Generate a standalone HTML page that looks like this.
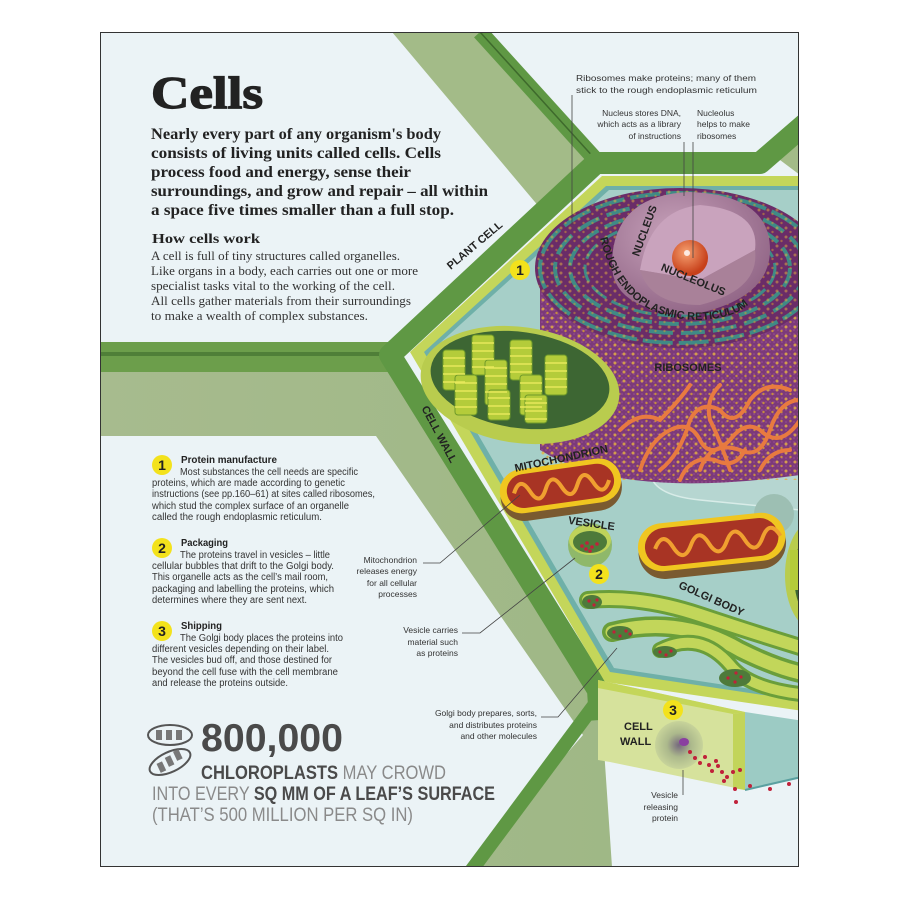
<!DOCTYPE html>
<html><head><meta charset="utf-8"><style>
html,body{margin:0;padding:0;background:#fff;}
svg{display:block}
.ser{font-family:"Liberation Serif",serif}
.san{font-family:"Liberation Sans",sans-serif}
</style></head><body>
<svg width="900" height="900" viewBox="0 0 900 900" xmlns="http://www.w3.org/2000/svg">
<defs>
<clipPath id="pg"><rect x="100" y="32" width="699" height="835"/></clipPath>
<pattern id="dots" width="9" height="9" patternUnits="userSpaceOnUse"><circle cx="3" cy="3" r="1.5" fill="#e8b440"/><circle cx="7.5" cy="7" r="1.2" fill="#d9a030"/></pattern>
<pattern id="pd" width="4" height="4" patternUnits="userSpaceOnUse"><rect width="4" height="4" fill="#7c3a7a"/><circle cx="2" cy="2" r="0.8" fill="#9a4f95"/></pattern>
<linearGradient id="sage" x1="0" y1="0" x2="1" y2="0"><stop offset="0" stop-color="#a7bb8e"/><stop offset="1" stop-color="#9fb886"/></linearGradient>
<radialGradient id="nuc" cx="0.4" cy="0.35" r="0.7"><stop offset="0" stop-color="#c8a3bb"/><stop offset="1" stop-color="#8f6384"/></radialGradient>
<radialGradient id="nl" cx="0.4" cy="0.35" r="0.6"><stop offset="0" stop-color="#f6a070"/><stop offset="1" stop-color="#c7401a"/></radialGradient>
<radialGradient id="vr" cx="0.5" cy="0.5" r="0.5"><stop offset="0" stop-color="#6a5a7a"/><stop offset="0.5" stop-color="#a7b48a"/><stop offset="1" stop-color="#c6d29a"/></radialGradient>
</defs>
<rect x="100" y="32" width="699" height="835" fill="#ebf3f6"/>
<g clip-path="url(#pg)">
<polygon points="392,32 480,32 590,155 540,208" fill="#a3bb88"/>
<polygon points="780,160 800,140 800,175" fill="#a3bb88"/>
<polygon points="100,370 392,370 600,690 612,867 468,867 583,735 376,436 100,436" fill="url(#sage)"/>
<rect x="100" y="342" width="300" height="30" fill="#6c9e4b"/>
<rect x="100" y="352" width="300" height="4" fill="#4f7f38"/>
<path d="M480,32 L596,160" stroke="#5f9844" stroke-width="16" fill="none"/>
<path d="M480,32 L596,160" stroke="#3e6a2c" stroke-width="1.5" fill="none"/>
<path d="M812,118 L760,163 L596,163 L390,355 L598,690 L600,720" stroke="#5f9844" stroke-width="22" fill="none" stroke-linejoin="round"/>
<path d="M598,700 L468,875" stroke="#5f9844" stroke-width="14" fill="none"/>
<polygon points="810,176 602,176 410,352 605,682 810,712" fill="#c4d65a"/>
<polygon points="810,186 606,186 424,352 610,672 810,702" fill="#6fb0a8"/>
<polygon points="810,190 609,190 430,352 614,668 810,698" fill="#a6cfc8"/>
<polygon points="598,680 745,712 745,790 610,762 598,760" fill="#d6e29c"/>
<polygon points="598,680 745,712 733,714 598,688" fill="#c4d65a"/>
<polygon points="733,714 745,712 745,790 733,788" fill="#c2d45a"/>
<polygon points="745,712 810,722 810,775 745,790" fill="#9ccbc4"/>
<path d="M745,790 L810,775" stroke="#5aa0a0" stroke-width="2"/>
<circle cx="679" cy="745" r="24" fill="url(#vr)" opacity="0.9"/>
<ellipse cx="684" cy="742" rx="5" ry="4" fill="#8a3fa0"/>
<g fill="#c0213a">
<circle cx="690" cy="752" r="2"/><circle cx="695" cy="758" r="2"/><circle cx="700" cy="763" r="2"/><circle cx="705" cy="757" r="2"/><circle cx="709" cy="765" r="2"/><circle cx="712" cy="771" r="2"/><circle cx="718" cy="766" r="2"/><circle cx="722" cy="772" r="2"/><circle cx="727" cy="777" r="2"/><circle cx="733" cy="772" r="2"/><circle cx="740" cy="770" r="2"/><circle cx="735" cy="789" r="2"/><circle cx="750" cy="786" r="2"/><circle cx="770" cy="789" r="2"/><circle cx="789" cy="784" r="2"/><circle cx="736" cy="802" r="2"/><circle cx="716" cy="761" r="2"/><circle cx="724" cy="781" r="2"/>
</g>
<path d="M650,470 Q640,440 700,440 L800,435 L800,510 L700,500 Q650,495 650,470Z" fill="#b6d6d1" stroke="#d8ece8" stroke-width="1.5"/>
<circle cx="774" cy="514" r="20" fill="#9dbfb3"/>
<path d="M540,280 L540,450 Q620,500 800,475 L800,240 Z" fill="url(#pd)"/>
<rect x="540" y="280" width="260" height="200" fill="url(#dots)" opacity="0.8"/>
<ellipse cx="680" cy="268" rx="145" ry="80" fill="#6a2c68"/>
<ellipse cx="680" cy="268" rx="140" ry="75" fill="none" stroke="#3f8a86" stroke-width="4" stroke-dasharray="30 6"/>
<ellipse cx="680" cy="268" rx="125" ry="65" fill="none" stroke="#3f8a86" stroke-width="4" stroke-dasharray="24 8"/>
<ellipse cx="680" cy="268" rx="110" ry="56" fill="none" stroke="#3f8a86" stroke-width="4" stroke-dasharray="20 7"/>
<ellipse cx="680" cy="268" rx="95" ry="48" fill="none" stroke="#3f8a86" stroke-width="3" stroke-dasharray="18 6"/>
<ellipse cx="680" cy="268" rx="145" ry="80" fill="url(#dots)" opacity="0.5"/>
<path d="M612,265 Q612,195 690,192 Q770,195 770,250 Q770,300 690,315 Q612,310 612,265Z" fill="url(#nuc)"/>
<path d="M640,270 Q650,210 700,205 Q760,210 755,250 L700,280 Z" fill="#c9a3bd"/>
<path d="M640,270 L700,280 L755,250 Q760,290 700,305 Q650,305 640,270Z" fill="#a98199"/>
<circle cx="690" cy="258" r="18" fill="url(#nl)"/>
<circle cx="687" cy="253" r="3" fill="#fff" opacity="0.8"/>
<g fill="none" stroke="#e87a40" stroke-width="4" stroke-linecap="round">
<path d="M640,470 Q650,440 670,430 Q690,420 700,440 Q710,460 730,440 Q745,420 760,430 Q780,450 800,420"/>
<path d="M660,470 Q680,455 690,420 Q700,400 720,410 Q735,430 750,400 Q765,380 790,390"/>
<path d="M700,470 Q710,440 740,450 Q760,460 770,430 Q780,400 800,400"/>
<path d="M620,430 Q640,410 660,420 Q680,400 690,385"/>
<path d="M760,470 Q770,450 790,450"/>
<path d="M730,470 Q720,440 710,420 Q705,400 720,385"/>
<path d="M680,480 Q690,455 715,460 Q735,470 745,450"/>
</g>
<ellipse cx="520" cy="385" rx="100" ry="58" transform="rotate(8 520 385)" fill="#b9cc4e"/>
<ellipse cx="520" cy="380" rx="90" ry="48" transform="rotate(8 520 380)" fill="#3d6633"/>
<g fill="#b4cc3a" stroke="#6f9a2a" stroke-width="1">
<rect x="443" y="350" width="22" height="40" rx="3"/><rect x="472" y="335" width="22" height="40" rx="3"/><rect x="510" y="340" width="22" height="40" rx="3"/>
<rect x="455" y="375" width="22" height="40" rx="3"/><rect x="485" y="360" width="22" height="45" rx="3"/><rect x="520" y="375" width="22" height="40" rx="3"/>
<rect x="545" y="355" width="22" height="40" rx="3"/><rect x="488" y="390" width="22" height="30" rx="3"/><rect x="525" y="395" width="22" height="28" rx="3"/>
</g>
<g stroke="#e6e85a" stroke-width="1.5">
<path d="M443,358h22M443,366h22M443,374h22M443,382h22M472,343h22M472,351h22M472,359h22M472,367h22M510,348h22M510,356h22M510,364h22M510,372h22M455,383h22M455,391h22M455,399h22M455,407h22M485,368h22M485,376h22M485,384h22M485,392h22M520,383h22M520,391h22M520,399h22M520,407h22M545,363h22M545,371h22M545,379h22M545,387h22M488,398h22M488,406h22M488,414h22M525,403h22M525,411h22M525,419h22"/>
</g>
<ellipse cx="815" cy="575" rx="30" ry="55" fill="#b9cc4e"/><ellipse cx="818" cy="575" rx="24" ry="48" fill="#3d6633"/>
<rect x="790" y="550" width="12" height="40" fill="#b4cc3a"/>
<g transform="rotate(-8 560 490)">
<rect x="500" y="468" width="122" height="48" rx="24" fill="#7a5a30"/>
<rect x="500" y="464" width="122" height="44" rx="22" fill="#f0c620"/>
<rect x="507" y="469" width="108" height="34" rx="17" fill="#a83424"/>
<path d="M514,487 q8,-17 16,0 t16,0 t16,0 t16,0 t16,0 t16,0" fill="none" stroke="#f0a030" stroke-width="4"/>
</g>
<g transform="rotate(-6 712 545)">
<rect x="638" y="522" width="148" height="52" rx="26" fill="#7a5a30"/>
<rect x="638" y="518" width="148" height="48" rx="24" fill="#f0c620"/>
<rect x="645" y="523" width="134" height="38" rx="19" fill="#a83424"/>
<path d="M655,543 q9,-18 18,0 t18,0 t18,0 t18,0 t18,0 t18,0 t18,0" fill="none" stroke="#f0a030" stroke-width="4"/>
</g>
<circle cx="590" cy="545" r="22" fill="#8fb86a"/>
<ellipse cx="590" cy="540" rx="21" ry="15" fill="#bfd35a"/>
<ellipse cx="590" cy="542" rx="17" ry="11" fill="#4e7a3a"/>
<g fill="#c0213a"><circle cx="582" cy="546" r="1.8"/><circle cx="587" cy="543" r="1.8"/><circle cx="592" cy="547" r="1.8"/><circle cx="597" cy="544" r="1.8"/><circle cx="590" cy="551" r="1.8"/><circle cx="586" cy="549" r="1.8"/></g>
<g fill="none" stroke-linecap="round">
<path d="M588,600 Q640,595 700,615 Q760,635 810,650" stroke="#6a9e3a" stroke-width="18"/>
<path d="M588,600 Q640,595 700,615 Q760,635 810,650" stroke="#c2d65a" stroke-width="12"/>
<path d="M612,632 Q680,615 740,650 Q780,670 810,675" stroke="#6a9e3a" stroke-width="20"/>
<path d="M612,632 Q680,615 740,650 Q780,670 810,675" stroke="#c2d65a" stroke-width="13"/>
<path d="M660,650 Q700,630 730,665 Q750,690 810,695" stroke="#6a9e3a" stroke-width="16"/>
<path d="M660,650 Q700,630 730,665 Q750,690 810,695" stroke="#c2d65a" stroke-width="10"/>
</g>
<g fill="#4e7a3a"><ellipse cx="592" cy="602" rx="10" ry="7"/><ellipse cx="620" cy="633" rx="13" ry="7"/><ellipse cx="665" cy="652" rx="12" ry="6"/><ellipse cx="735" cy="678" rx="16" ry="9"/></g>
<g fill="#c0213a"><circle cx="589" cy="601" r="1.6"/><circle cx="594" cy="605" r="1.6"/><circle cx="597" cy="600" r="1.6"/><circle cx="614" cy="632" r="1.6"/><circle cx="620" cy="636" r="1.6"/><circle cx="626" cy="631" r="1.6"/><circle cx="630" cy="634" r="1.6"/><circle cx="660" cy="652" r="1.6"/><circle cx="666" cy="655" r="1.6"/><circle cx="671" cy="651" r="1.6"/><circle cx="728" cy="678" r="1.6"/><circle cx="735" cy="682" r="1.6"/><circle cx="741" cy="677" r="1.6"/><circle cx="736" cy="673" r="1.6"/></g>
</g>
<rect x="100.5" y="32.5" width="698" height="834" fill="none" stroke="#333" stroke-width="1"/>

<text x="151" y="108" class="ser" font-size="45" font-weight="bold" fill="#222" stroke="#222" stroke-width="1.2" textLength="112" lengthAdjust="spacingAndGlyphs">Cells</text>
<g class="ser" font-size="16" font-weight="bold" fill="#222">
<text x="151" y="139" textLength="290" lengthAdjust="spacingAndGlyphs">Nearly every part of any organism's body</text>
<text x="151" y="158" textLength="290" lengthAdjust="spacingAndGlyphs">consists of living units called cells. Cells</text>
<text x="151" y="177" textLength="260" lengthAdjust="spacingAndGlyphs">process food and energy, sense their</text>
<text x="151" y="196" textLength="337" lengthAdjust="spacingAndGlyphs">surroundings, and grow and repair – all within</text>
<text x="151" y="215" textLength="303" lengthAdjust="spacingAndGlyphs">a space five times smaller than a full stop.</text>
</g>
<text x="152" y="243" class="ser" font-size="14" font-weight="bold" fill="#222" textLength="108" lengthAdjust="spacingAndGlyphs">How cells work</text>
<g class="ser" font-size="12.5" fill="#333">
<text x="151" y="260" textLength="249" lengthAdjust="spacingAndGlyphs">A cell is full of tiny structures called organelles.</text>
<text x="151" y="275" textLength="267" lengthAdjust="spacingAndGlyphs">Like organs in a body, each carries out one or more</text>
<text x="151" y="290" textLength="244" lengthAdjust="spacingAndGlyphs">specialist tasks vital to the working of the cell.</text>
<text x="151" y="305" textLength="260" lengthAdjust="spacingAndGlyphs">All cells gather materials from their surroundings</text>
<text x="151" y="320" textLength="217" lengthAdjust="spacingAndGlyphs">to make a wealth of complex substances.</text>
</g>

<g class="san" fill="#222">
<circle cx="162" cy="465" r="10" fill="#f3e21c"/><text x="162" y="470" font-size="14" font-weight="bold" text-anchor="middle">1</text>
<text x="181" y="463" font-size="10.5" font-weight="bold" textLength="96" lengthAdjust="spacingAndGlyphs">Protein manufacture</text>
<g font-size="10" fill="#333">
<text x="180" y="475" textLength="178" lengthAdjust="spacingAndGlyphs">Most substances the cell needs are specific</text>
<text x="152" y="486" textLength="193" lengthAdjust="spacingAndGlyphs">proteins, which are made according to genetic</text>
<text x="152" y="497" textLength="223" lengthAdjust="spacingAndGlyphs">instructions (see pp.160–61) at sites called ribosomes,</text>
<text x="152" y="509" textLength="197" lengthAdjust="spacingAndGlyphs">which stud the complex surface of an organelle</text>
<text x="152" y="520" textLength="170" lengthAdjust="spacingAndGlyphs">called the rough endoplasmic reticulum.</text>
</g>
<circle cx="162" cy="548" r="10" fill="#f3e21c"/><text x="162" y="553" font-size="14" font-weight="bold" text-anchor="middle">2</text>
<text x="181" y="546" font-size="10.5" font-weight="bold" textLength="47" lengthAdjust="spacingAndGlyphs">Packaging</text>
<g font-size="10" fill="#333">
<text x="180" y="558" textLength="150" lengthAdjust="spacingAndGlyphs">The proteins travel in vesicles – little</text>
<text x="152" y="569" textLength="182" lengthAdjust="spacingAndGlyphs">cellular bubbles that drift to the Golgi body.</text>
<text x="152" y="580" textLength="176" lengthAdjust="spacingAndGlyphs">This organelle acts as the cell’s mail room,</text>
<text x="152" y="592" textLength="182" lengthAdjust="spacingAndGlyphs">packaging and labelling the proteins, which</text>
<text x="152" y="603" textLength="155" lengthAdjust="spacingAndGlyphs">determines where they are sent next.</text>
</g>
<circle cx="162" cy="631" r="10" fill="#f3e21c"/><text x="162" y="636" font-size="14" font-weight="bold" text-anchor="middle">3</text>
<text x="181" y="629" font-size="10.5" font-weight="bold" textLength="41" lengthAdjust="spacingAndGlyphs">Shipping</text>
<g font-size="10" fill="#333">
<text x="180" y="641" textLength="163" lengthAdjust="spacingAndGlyphs">The Golgi body places the proteins into</text>
<text x="152" y="652" textLength="177" lengthAdjust="spacingAndGlyphs">different vesicles depending on their label.</text>
<text x="152" y="663" textLength="180" lengthAdjust="spacingAndGlyphs">The vesicles bud off, and those destined for</text>
<text x="152" y="675" textLength="186" lengthAdjust="spacingAndGlyphs">beyond the cell fuse with the cell membrane</text>
<text x="152" y="686" textLength="136" lengthAdjust="spacingAndGlyphs">and release the proteins outside.</text>
</g>
</g>

<g fill="none" stroke="#555" stroke-width="2">
<ellipse cx="170" cy="735" rx="22" ry="10"/>
<ellipse cx="170" cy="762" rx="22" ry="10" transform="rotate(-25 170 762)"/>
</g>
<g fill="#777"><rect x="156" y="730" width="6" height="10"/><rect x="166" y="730" width="6" height="10"/><rect x="176" y="730" width="6" height="10"/><rect x="157" y="758" width="6" height="10" transform="rotate(-25 170 762)"/><rect x="167" y="756" width="6" height="10" transform="rotate(-25 170 762)"/><rect x="177" y="754" width="6" height="10" transform="rotate(-25 170 762)"/></g>
<g class="san" font-weight="bold">
<text x="201" y="751" font-size="39" fill="#4a4a4a" textLength="142" lengthAdjust="spacingAndGlyphs">800,000</text>
<text x="201" y="779" font-size="19" textLength="245" lengthAdjust="spacingAndGlyphs"><tspan fill="#4a4a4a">CHLOROPLASTS</tspan><tspan fill="#8a8a8a" font-weight="normal"> MAY CROWD</tspan></text>
<text x="152" y="800" font-size="19" textLength="343" lengthAdjust="spacingAndGlyphs"><tspan fill="#8a8a8a" font-weight="normal">INTO EVERY </tspan><tspan fill="#4a4a4a">SQ MM OF A LEAF’S SURFACE</tspan></text>
<text x="152" y="821" font-size="19" fill="#8a8a8a" font-weight="normal" textLength="261" lengthAdjust="spacingAndGlyphs">(THAT’S 500 MILLION PER SQ IN)</text>
</g>

<g class="san" font-size="8.5" fill="#333">
<text x="576" y="81" textLength="180" lengthAdjust="spacingAndGlyphs">Ribosomes make proteins; many of them</text>
<text x="576" y="93" textLength="181" lengthAdjust="spacingAndGlyphs">stick to the rough endoplasmic reticulum</text>
<text x="681" y="116" text-anchor="end">Nucleus stores DNA,</text>
<text x="681" y="127" text-anchor="end">which acts as a library</text>
<text x="681" y="139" text-anchor="end">of instructions</text>
<text x="697" y="116">Nucleolus</text>
<text x="697" y="127">helps to make</text>
<text x="697" y="139">ribosomes</text>
<text x="417" y="563" text-anchor="end">Mitochondrion</text>
<text x="417" y="574" text-anchor="end">releases energy</text>
<text x="417" y="586" text-anchor="end">for all cellular</text>
<text x="417" y="597" text-anchor="end">processes</text>
<text x="458" y="633" text-anchor="end">Vesicle carries</text>
<text x="458" y="645" text-anchor="end">material such</text>
<text x="458" y="656" text-anchor="end">as proteins</text>
<text x="537" y="716" text-anchor="end">Golgi body prepares, sorts,</text>
<text x="537" y="728" text-anchor="end">and distributes proteins</text>
<text x="537" y="739" text-anchor="end">and other molecules</text>
<text x="678" y="798" text-anchor="end">Vesicle</text>
<text x="678" y="810" text-anchor="end">releasing</text>
<text x="678" y="821" text-anchor="end">protein</text>
</g>
<g stroke="#444" stroke-width="0.8" fill="none">
<path d="M572,95 V225"/><path d="M684,142 V196"/><path d="M693,142 V258"/>
<path d="M423,563 H440 L520,495"/><path d="M462,633 H480 L575,558"/><path d="M541,717 H558 L617,648"/><path d="M683,770 V795"/>
</g>

<g class="san" font-weight="bold" fill="#222">
<text font-size="11" transform="translate(477,248) rotate(-40)" text-anchor="middle">PLANT CELL</text>
<text font-size="11" transform="translate(436,436) rotate(62)" text-anchor="middle">CELL WALL</text>
<text font-size="11" transform="translate(562,462) rotate(-12)" text-anchor="middle">MITOCHONDRION</text>
<text font-size="11" transform="translate(591,527) rotate(8)" text-anchor="middle">VESICLE</text>
<text font-size="11" transform="translate(710,602) rotate(24)" text-anchor="middle">GOLGI BODY</text>
<text font-size="11" x="624" y="730">CELL</text>
<text font-size="11" x="620" y="745">WALL</text>
<text font-size="11" transform="translate(648,232) rotate(-70)" text-anchor="middle">NUCLEUS</text>
<text font-size="11" transform="translate(692,283) rotate(22)" text-anchor="middle">NUCLEOLUS</text>
<text font-size="11" x="688" y="371" text-anchor="middle">RIBOSOMES</text>
</g>
<path id="erp" d="M600,238 Q620,320 700,320 Q740,318 752,300" fill="none"/>
<text class="san" font-size="11" font-weight="bold" fill="#222"><textPath href="#erp">ROUGH ENDOPLASMIC RETICULUM</textPath></text>

<g class="san" font-weight="bold" font-size="14" text-anchor="middle" fill="#222">
<circle cx="520" cy="270" r="10" fill="#f3e21c"/><text x="520" y="275">1</text>
<circle cx="599" cy="574" r="10" fill="#f3e21c"/><text x="599" y="579">2</text>
<circle cx="673" cy="710" r="10" fill="#f3e21c"/><text x="673" y="715">3</text>
</g>
</svg>
</body></html>
